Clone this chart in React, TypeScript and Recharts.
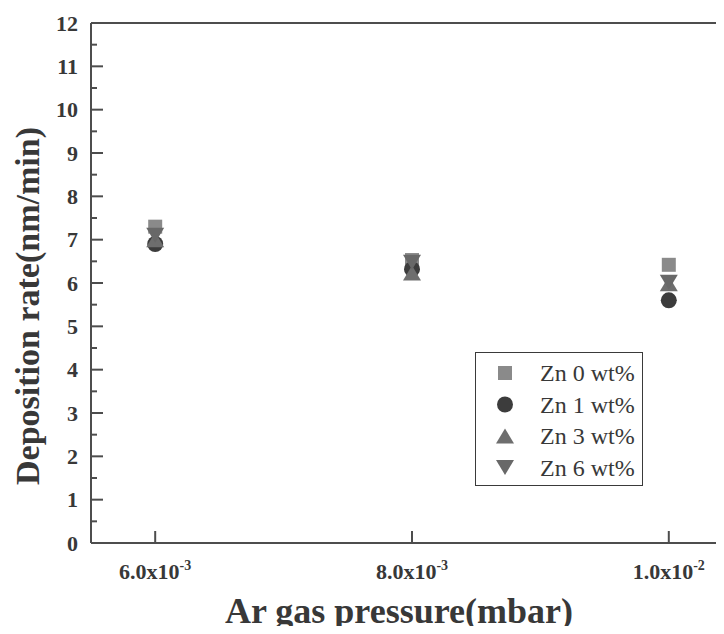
import React from "react";
import {
  Legend,
  Scatter,
  ScatterChart,
  XAxis,
  YAxis,
} from "recharts";

// Ar pressure (mbar) for each sputtering run
const pressures = [6.0e-3, 8.0e-3, 1.0e-2];

// deposition rate (nm/min) per Zn doping level
const zn0 = [7.3, 6.53, 6.42];
const zn1 = [6.9, 6.32, 5.6];
const zn3 = [7.0, 6.23, 5.98];
const zn6 = [7.1, 6.48, 6.02];

const xTicks = [6.0e-3, 8.0e-3, 1.0e-2];
const yTicks = [0, 0.5, 1, 1.5, 2, 2.5, 3, 3.5, 4, 4.5, 5, 5.5, 6, 6.5, 7, 7.5, 8, 8.5, 9, 9.5, 10, 10.5, 11, 11.5, 12];

const FONT = "'Liberation Serif', 'Times New Roman', serif";
const AXIS = "#4d4d4d";
const TEXT = "#383838";

type Kind = "square" | "circle" | "up" | "down";

const series: { name: string; values: number[]; kind: Kind; color: string }[] = [
  { name: "Zn 0 wt%", values: zn0, kind: "square", color: "#8a8a8a" },
  { name: "Zn 1 wt%", values: zn1, kind: "circle", color: "#3c3c3c" },
  { name: "Zn 3 wt%", values: zn3, kind: "up", color: "#6e6e6e" },
  { name: "Zn 6 wt%", values: zn6, kind: "down", color: "#686868" },
];

function Marker({ kind, cx, cy, fill }: { kind: Kind; cx: number; cy: number; fill: string }) {
  if (kind === "square") return <rect x={cx - 7} y={cy - 7} width={14} height={14} fill={fill} />;
  if (kind === "circle") return <circle cx={cx} cy={cy} r={8} fill={fill} />;
  if (kind === "up")
    return <polygon points={`${cx - 9},${cy + 7.5} ${cx + 9},${cy + 7.5} ${cx},${cy - 7.5}`} fill={fill} />;
  return <polygon points={`${cx - 9},${cy - 7.5} ${cx + 9},${cy - 7.5} ${cx},${cy + 7.5}`} fill={fill} />;
}

function sciParts(v: number) {
  const e = Math.floor(Math.log10(v) + 1e-9);
  const m = v / Math.pow(10, e);
  return { mant: m.toFixed(1), exp: String(e) };
}

const LeftTick = (props: any) => {
  const { x, y, payload } = props;
  const major = Number.isInteger(payload.value);
  return (
    <g>
      <line x1={x} x2={x + (major ? 12 : 6)} y1={y} y2={y} stroke={AXIS} strokeWidth={2} />
      {major && (
        <text x={x - 13} y={y} textAnchor="end" dominantBaseline="central" fontFamily={FONT} fontWeight="bold" fontSize={22} fill={TEXT}>
          {payload.value}
        </text>
      )}
    </g>
  );
};

const RightTick = (props: any) => {
  const { x, y, payload } = props;
  const major = Number.isInteger(payload.value);
  return <line x1={x} x2={x - (major ? 12 : 6)} y1={y} y2={y} stroke={AXIS} strokeWidth={2} />;
};

const BottomTick = (props: any) => {
  const { x, y, payload } = props;
  const { mant, exp } = sciParts(payload.value);
  return (
    <g>
      <line x1={x} x2={x} y1={y} y2={y - 12} stroke={AXIS} strokeWidth={2} />
      <text x={x} y={y + 36} textAnchor="middle" fontFamily={FONT} fontWeight="bold" fontSize={22} fill={TEXT}>
        {mant}x10
        <tspan dy={-9} fontSize={14}>{exp}</tspan>
      </text>
    </g>
  );
};

const TopTick = (props: any) => {
  const { x, y } = props;
  return <line x1={x} x2={x} y1={y} y2={y + 12} stroke={AXIS} strokeWidth={2} />;
};

const LegendBox = () => (
  <div
    style={{
      width: 168,
      height: 134,
      border: "1.5px solid #3a3a3a",
      boxSizing: "border-box",
      background: "#fff",
    }}
  >
    <svg width={165} height={131}>
      {series.map((s, i) => (
        <g key={s.name}>
          <Marker kind={s.kind} cx={29} cy={20 + i * 31.5} fill={s.color} />
          <text x={64} y={20 + i * 31.5} dominantBaseline="central" fontFamily={FONT} fontSize={24} fill={TEXT}>
            {s.name}
          </text>
        </g>
      ))}
    </svg>
  </div>
);

export default function App() {
  // negative bottom margin cancels the body margin so the full height fits the page
  return (
    <div style={{ width: 716, height: 626, marginBottom: -8, overflow: "hidden", position: "relative", fontFamily: FONT }}>
      <ScatterChart width={760} height={626} margin={{ top: 10, right: 25, bottom: 8, left: 0 }}>
        <XAxis
          xAxisId="bottom"
          type="number"
          dataKey="p"
          domain={[5.5e-3, 10.5e-3]}
          ticks={xTicks}
          tick={<BottomTick />}
          tickSize={0}
          tickMargin={0}
          tickLine={false}
          height={83}
          axisLine={{ stroke: AXIS, strokeWidth: 2 }}
          interval={0}
          allowDataOverflow
        />
        <XAxis
          xAxisId="top"
          orientation="top"
          type="number"
          domain={[5.5e-3, 10.5e-3]}
          ticks={xTicks}
          tick={<TopTick />}
          tickSize={0}
          tickMargin={0}
          tickLine={false}
          height={5}
          axisLine={{ stroke: AXIS, strokeWidth: 2 }}
          interval={0}
          allowDataOverflow
        />
        <YAxis
          yAxisId="left"
          type="number"
          dataKey="rate"
          domain={[0, 12]}
          ticks={yTicks}
          tick={<LeftTick />}
          tickSize={0}
          tickMargin={0}
          tickLine={false}
          width={83}
          axisLine={{ stroke: AXIS, strokeWidth: 2 }}
          interval={0}
          allowDataOverflow
          label={{
            content: () => (
              <text
                x={19}
                y={298}
                transform="rotate(-90 19 298)"
                textAnchor="middle"
                dominantBaseline="central"
                fontFamily={FONT}
                fontWeight="bold"
                fontSize={34}
                fill={TEXT}
              >
                Deposition rate(nm/min)
              </text>
            ),
          }}
        />
        <YAxis
          yAxisId="right"
          orientation="right"
          type="number"
          domain={[0, 12]}
          ticks={yTicks}
          tick={<RightTick />}
          tickSize={0}
          tickMargin={0}
          tickLine={false}
          width={10}
          axisLine={{ stroke: AXIS, strokeWidth: 2 }}
          interval={0}
          allowDataOverflow
        />
        {series.map((s) => (
          <Scatter
            key={s.name}
            name={s.name}
            xAxisId="bottom"
            yAxisId="left"
            data={pressures.map((p, i) => ({ p, rate: s.values[i] }))}
            fill={s.color}
            isAnimationActive={false}
            shape={(props: any) => <Marker kind={s.kind} cx={props.cx} cy={props.cy} fill={s.color} />}
          />
        ))}
        <Legend
          layout="vertical"
          align="center"
          verticalAlign="middle"
          content={() => <LegendBox />}
          wrapperStyle={{ left: 467, top: 344, width: 168, height: 134 }}
        />
        <text
          x={391}
          y={615}
          textAnchor="middle"
          fontFamily={FONT}
          fontWeight="bold"
          fontSize={36}
          fill={TEXT}
        >
          Ar gas pressure(mbar)
        </text>
      </ScatterChart>
    </div>
  );
}
